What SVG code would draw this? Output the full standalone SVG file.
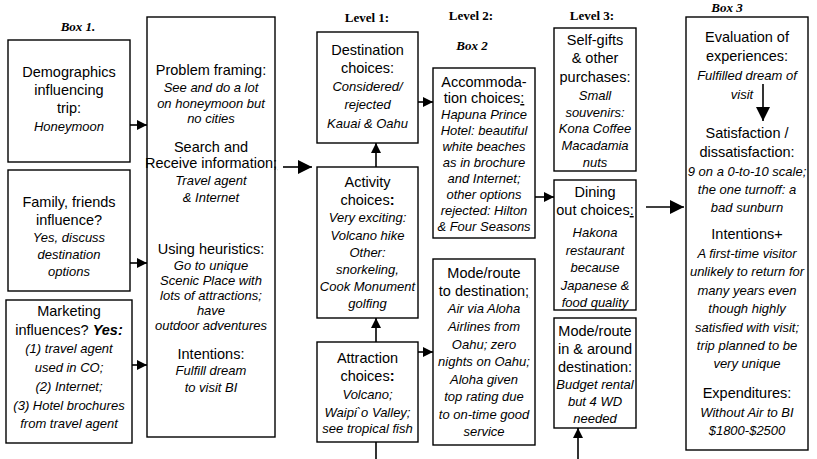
<svg xmlns="http://www.w3.org/2000/svg" width="817" height="459" viewBox="0 0 817 459">
  <style>
    .bg { fill: #ffffff; }
    .box { fill: #ffffff; stroke: #000; stroke-width: 1.4; }
    .line { fill: none; stroke: #000; stroke-width: 1.6; }
    text { font-family: "Liberation Sans", Arial, sans-serif; fill: #000; text-anchor: middle; }
    .hd { font-size: 14.5px; }
    .it { font-style: italic; font-size: 13px; }
    .lbl { font-family: "Liberation Serif", "Times New Roman", serif; font-weight: bold; font-size: 13px; }
    .lbli { font-family: "Liberation Serif", "Times New Roman", serif; font-weight: bold; font-style: italic; font-size: 13px; }
    .u { text-decoration: underline; }
    .b { font-weight: bold; }
  </style>
  <defs>
    <marker id="head" markerUnits="userSpaceOnUse" markerWidth="12" markerHeight="12" viewBox="0 0 12 12" refX="11" refY="6" orient="auto">
      <path d="M1,1 L11,6 L1,11 Z" fill="#000"/>
    </marker>
    <marker id="bighead" markerUnits="userSpaceOnUse" markerWidth="16" markerHeight="16" viewBox="0 0 16 16" refX="15" refY="8" orient="auto">
      <path d="M1,1 L15,8 L1,15 Z" fill="#000"/>
    </marker>
  </defs>

  <rect class="bg" x="0" y="0" width="817" height="459"/>

  <!-- headings above the columns -->
  <g id="labels">
    <text class="lbli" x="78" y="31">Box 1.</text>
    <text class="lbl" x="367" y="22">Level 1:</text>
    <text class="lbl" x="471" y="20">Level 2:</text>
    <text class="lbli" x="472" y="50">Box 2</text>
    <text class="lbl" x="592" y="20">Level 3:</text>
    <text class="lbli" x="727" y="12">Box 3</text>
  </g>

  <!-- Box 1: influences -->
  <g id="demographics">
    <rect class="box" x="8" y="40" width="122" height="122"/>
    <text class="hd" x="69" y="77" font-size="15">Demographics</text>
    <text class="hd" x="69" y="95" font-size="15">influencing</text>
    <text class="hd" x="69" y="113" font-size="15">trip:</text>
    <text class="it" x="69" y="131" font-size="16.5">Honeymoon</text>
  </g>

  <g id="family">
    <rect class="box" x="8" y="170" width="122" height="121"/>
    <text class="hd" x="69" y="207">Family, friends</text>
    <text class="hd" x="69" y="225">influence?</text>
    <text class="it" x="69" y="242" font-size="14">Yes, discuss</text>
    <text class="it" x="69" y="259" font-size="14">destination</text>
    <text class="it" x="69" y="276" font-size="14">options</text>
  </g>

  <g id="marketing">
    <rect class="box" x="6" y="300" width="126" height="143"/>
    <text class="hd" x="69" y="316">Marketing</text>
    <text class="hd" x="69" y="335">influences? <tspan class="b" font-style="italic">Yes:</tspan></text>
    <text class="it" x="69" y="353" font-size="14">(1) travel agent</text>
    <text class="it" x="69" y="372" font-size="14">used in CO;</text>
    <text class="it" x="69" y="391" font-size="14">(2) Internet;</text>
    <text class="it" x="69" y="410" font-size="14">(3) Hotel brochures</text>
    <text class="it" x="69" y="428" font-size="14">from travel agent</text>
  </g>

  <!-- decision process -->
  <g id="process">
    <rect class="box" x="147" y="17" width="128" height="420"/>
    <text class="hd" x="211" y="75" font-size="14">Problem framing:</text>
    <text class="it" x="211" y="92">See and do a lot</text>
    <text class="it" x="211" y="108">on honeymoon but</text>
    <text class="it" x="211" y="123">no cities</text>
    <text class="hd" x="211" y="152" font-size="14">Search and</text>
    <text class="hd" x="211" y="168" font-size="14">Receive information<tspan class="u">;</tspan></text>
    <text class="it" x="211" y="185">Travel agent</text>
    <text class="it" x="211" y="202">&amp; Internet</text>
    <text class="hd" x="211" y="254" font-size="14">Using heuristics:</text>
    <text class="it" x="211" y="270" font-size="12">Go to  unique</text>
    <text class="it" x="211" y="285" font-size="12">Scenic Place with</text>
    <text class="it" x="211" y="300" font-size="12">lots  of attractions;</text>
    <text class="it" x="211" y="315" font-size="12">have</text>
    <text class="it" x="211" y="330" font-size="12">outdoor adventures</text>
    <text class="hd" x="211" y="359" font-size="14">Intentions:</text>
    <text class="it" x="211" y="375">Fulfill dream</text>
    <text class="it" x="211" y="392">to visit BI</text>
  </g>

  <!-- Level 1 -->
  <g id="destination">
    <rect class="box" x="317" y="32" width="101" height="111"/>
    <text class="hd" x="367.5" y="55" font-size="15">Destination</text>
    <text class="hd" x="367.5" y="73" font-size="15">choices:</text>
    <text class="it" x="367.5" y="91" font-size="14">Considered/</text>
    <text class="it" x="367.5" y="109" font-size="14">rejected</text>
    <text class="it" x="367.5" y="128" font-size="14">Kauai &amp; Oahu</text>
  </g>

  <g id="activity">
    <rect class="box" x="317" y="167" width="101" height="151"/>
    <text class="hd" x="367.5" y="187" font-size="15">Activity</text>
    <text class="hd" x="367.5" y="205" font-size="15">choices<tspan class="b">:</tspan></text>
    <text class="it" x="367.5" y="222" font-size="13.5">Very exciting:</text>
    <text class="it" x="367.5" y="240" font-size="13.5">Volcano hike</text>
    <text class="it" x="367.5" y="257" font-size="13.5">Other:</text>
    <text class="it" x="367.5" y="274" font-size="13.5">snorkeling,</text>
    <text class="it" x="367.5" y="291" font-size="13.5">Cook Monument</text>
    <text class="it" x="367.5" y="308" font-size="13.5">golfing</text>
  </g>

  <g id="attraction">
    <rect class="box" x="317" y="342" width="101" height="100"/>
    <text class="hd" x="367.5" y="363" font-size="15">Attraction</text>
    <text class="hd" x="367.5" y="381" font-size="15">choices<tspan class="b">:</tspan></text>
    <text class="it" x="367.5" y="399" font-size="13.5">Volcano;</text>
    <text class="it" x="367.5" y="417" font-size="13.5">Waipi`o Valley;</text>
    <text class="it" x="367.5" y="433" font-size="13.5">see tropical fish</text>
  </g>

  <!-- Level 2 -->
  <g id="accommodation">
    <rect class="box" x="433" y="68" width="102" height="170"/>
    <text class="hd" x="484" y="87" font-size="15.5">Accommoda-</text>
    <text class="hd" x="484" y="103" font-size="15.5">tion choices<tspan class="u">:</tspan></text>
    <text class="it" x="484" y="119">Hapuna Prince</text>
    <text class="it" x="484" y="135">Hotel: beautiful</text>
    <text class="it" x="484" y="151">white beaches</text>
    <text class="it" x="484" y="167">as in brochure</text>
    <text class="it" x="484" y="183">and Internet;</text>
    <text class="it" x="484" y="199">other options</text>
    <text class="it" x="484" y="215">rejected: Hilton</text>
    <text class="it" x="484" y="231">&amp; Four Seasons</text>
  </g>

  <g id="route-to">
    <rect class="box" x="433" y="259" width="102" height="186"/>
    <text class="hd" x="484" y="278" font-size="15">Mode/route</text>
    <text class="hd" x="484" y="296" font-size="15">to destination<tspan class="u">;</tspan></text>
    <text class="it" x="484" y="313">Air via Aloha</text>
    <text class="it" x="484" y="331">Airlines from</text>
    <text class="it" x="484" y="349">Oahu; zero</text>
    <text class="it" x="484" y="366">nights on Oahu;</text>
    <text class="it" x="484" y="384">Aloha given</text>
    <text class="it" x="484" y="401">top rating due</text>
    <text class="it" x="484" y="419">to on-time good</text>
    <text class="it" x="484" y="436">service</text>
  </g>

  <!-- Level 3 -->
  <g id="self-gifts">
    <rect class="box" x="554" y="28" width="82" height="143"/>
    <text class="hd" x="595" y="45" font-size="15">Self-gifts</text>
    <text class="hd" x="595" y="63" font-size="15">&amp; other</text>
    <text class="hd" x="595" y="82" font-size="15">purchases:</text>
    <text class="it" x="595" y="100">Small</text>
    <text class="it" x="595" y="117">souvenirs:</text>
    <text class="it" x="595" y="133">Kona Coffee</text>
    <text class="it" x="595" y="150">Macadamia</text>
    <text class="it" x="595" y="167">nuts</text>
  </g>

  <g id="dining">
    <rect class="box" x="554" y="180" width="82" height="130"/>
    <text class="hd" x="595" y="197" font-size="15">Dining</text>
    <text class="hd" x="595" y="215" font-size="15">out choices<tspan class="u">:</tspan></text>
    <text class="it" x="595" y="237">Hakona</text>
    <text class="it" x="595" y="255">restaurant</text>
    <text class="it" x="595" y="272">because</text>
    <text class="it" x="595" y="290">Japanese &amp;</text>
    <text class="it" x="595" y="307">food quality</text>
  </g>

  <g id="route-around">
    <rect class="box" x="554" y="318" width="82" height="110"/>
    <text class="hd" x="595" y="336" font-size="15">Mode/route</text>
    <text class="hd" x="595" y="354" font-size="15">in &amp; around</text>
    <text class="hd" x="595" y="372" font-size="15">destination:</text>
    <text class="it" x="595" y="389" font-size="12.8">Budget rental</text>
    <text class="it" x="595" y="406">but 4 WD</text>
    <text class="it" x="595" y="423">needed</text>
  </g>

  <!-- Box 3: outcomes -->
  <g id="evaluation">
    <rect class="box" x="686" y="17" width="122" height="433"/>
    <text class="hd" x="747" y="42" font-size="15.5">Evaluation of</text>
    <text class="hd" x="747" y="61" font-size="15.5">experiences:</text>
    <text class="it" x="747" y="80" font-size="13.8">Fulfilled dream of</text>
    <text class="it" x="742" y="99" font-size="13.8">visit</text>
    <text class="hd" x="747" y="138" font-size="15.5">Satisfaction /</text>
    <text class="hd" x="747" y="157" font-size="15.5">dissatisfaction:</text>
    <text class="it" x="747" y="176" font-size="13.8">9 on a 0-to-10 scale;</text>
    <text class="it" x="747" y="194" font-size="13.8">the one turnoff:  a</text>
    <text class="it" x="747" y="212" font-size="13.8">bad sunburn</text>
    <text class="hd" x="747" y="239" font-size="15.5">Intentions+</text>
    <text class="it" x="747" y="258" font-size="13.8">A first-time visitor</text>
    <text class="it" x="747" y="276" font-size="13.8">unlikely to return for</text>
    <text class="it" x="747" y="295" font-size="13.8">many years even</text>
    <text class="it" x="747" y="313" font-size="13.8">though highly</text>
    <text class="it" x="747" y="332" font-size="13.8">satisfied with visit;</text>
    <text class="it" x="747" y="350" font-size="13.8">trip planned to be</text>
    <text class="it" x="747" y="368" font-size="13.8">very unique</text>
    <text class="hd" x="747" y="398" font-size="15.5">Expenditures:</text>
    <text class="it" x="747" y="417" font-size="13.8">Without Air to BI</text>
    <text class="it" x="747" y="435" font-size="13.8">$1800-$2500</text>
  </g>

  <!-- connectors -->
  <g id="connectors">
    <line class="line" x1="130" y1="125" x2="147" y2="125" marker-end="url(#head)"/>
    <line class="line" x1="130" y1="263" x2="147" y2="263" marker-end="url(#head)"/>
    <line class="line" x1="132" y1="365" x2="147" y2="365" marker-end="url(#head)"/>
    <line class="line" x1="283" y1="167" x2="312" y2="167" marker-end="url(#bighead)"/>
    <line class="line" x1="376" y1="167" x2="376" y2="143" marker-end="url(#head)"/>
    <line class="line" x1="376" y1="342" x2="376" y2="318" marker-end="url(#head)"/>
    <line class="line" x1="376" y1="442" x2="376" y2="459"/>
    <line class="line" x1="418" y1="102" x2="433" y2="102" marker-end="url(#head)"/>
    <line class="line" x1="418" y1="352" x2="433" y2="352" marker-end="url(#head)"/>
    <line class="line" x1="535" y1="197" x2="554" y2="197" marker-end="url(#head)"/>
    <line class="line" x1="646" y1="207" x2="684" y2="207" marker-end="url(#bighead)"/>
    <line class="line" x1="578" y1="459" x2="578" y2="428" marker-end="url(#head)"/>
    <line class="line" x1="763" y1="84" x2="763" y2="121" marker-end="url(#bighead)"/>
  </g>
</svg>
